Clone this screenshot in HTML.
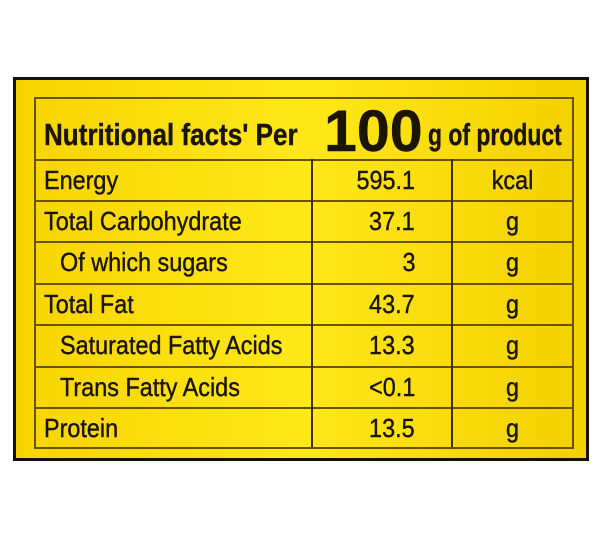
<!DOCTYPE html>
<html><head><style>
body{margin:0;background:#fff;width:600px;height:540px;position:relative;overflow:hidden}
.outer{position:absolute;left:13px;top:77px;width:570px;height:378px;border:3px solid #111;background:linear-gradient(90deg,#f6d400,#ffe81a 50%,#f4d000)}
.t{position:absolute;left:18px;top:17px;width:536px;height:348px;border:2px solid #6a5200}
.h{position:absolute;height:2px;background:#6a5200;left:0;width:536px}
.v{position:absolute;width:2px;background:#3a2c00;top:60px;height:288px}
.x{position:absolute;font-family:"Liberation Sans",sans-serif;color:#1a1400;font-size:26px;line-height:1;white-space:nowrap;-webkit-text-stroke:0.4px #1a1400;transform:scaleX(0.9);transform-origin:left center}
.r{transform-origin:right center}
.c{transform-origin:center center}
</style></head><body>
<div class="outer"><div class="t">
<div class="h" style="top:60px"></div>
<div class="h" style="top:101px"></div>
<div class="h" style="top:142px"></div>
<div class="h" style="top:184px"></div>
<div class="h" style="top:225px"></div>
<div class="h" style="top:267px"></div>
<div class="h" style="top:308px"></div>
<div class="v" style="left:275px"></div>
<div class="v" style="left:415px"></div>
<div class="x" style="left:8px;top:20px;font-size:31px;font-weight:bold;transform:scaleX(0.84)">Nutritional facts' Per</div>
<div class="x" style="left:288px;top:4px;font-size:58px;font-weight:bold;transform:scaleX(1.02)">100</div>
<div class="x" style="left:392px;top:20px;font-size:31px;font-weight:bold;transform:scaleX(0.74)">g of product</div>
<div class="x" style="left:8px;top:68px">Energy</div>
<div class="x" style="left:8px;top:109px">Total Carbohydrate</div>
<div class="x" style="left:24px;top:150px">Of which sugars</div>
<div class="x" style="left:8px;top:192px">Total Fat</div>
<div class="x" style="left:24px;top:233px">Saturated Fatty Acids</div>
<div class="x" style="left:24px;top:275px">Trans Fatty Acids</div>
<div class="x" style="left:8px;top:316px">Protein</div>
<div class="x r" style="right:157px;top:68px">595.1</div>
<div class="x r" style="right:157px;top:109px">37.1</div>
<div class="x r" style="right:157px;top:150px">3</div>
<div class="x r" style="right:157px;top:192px">43.7</div>
<div class="x r" style="right:157px;top:233px">13.3</div>
<div class="x r" style="right:157px;top:275px">&lt;0.1</div>
<div class="x r" style="right:157px;top:316px">13.5</div>
<div class="x c" style="left:417px;width:119px;text-align:center;top:68px">kcal</div>
<div class="x c" style="left:417px;width:119px;text-align:center;top:109px">g</div>
<div class="x c" style="left:417px;width:119px;text-align:center;top:150px">g</div>
<div class="x c" style="left:417px;width:119px;text-align:center;top:192px">g</div>
<div class="x c" style="left:417px;width:119px;text-align:center;top:233px">g</div>
<div class="x c" style="left:417px;width:119px;text-align:center;top:275px">g</div>
<div class="x c" style="left:417px;width:119px;text-align:center;top:316px">g</div>
</div></div>
</body></html>
